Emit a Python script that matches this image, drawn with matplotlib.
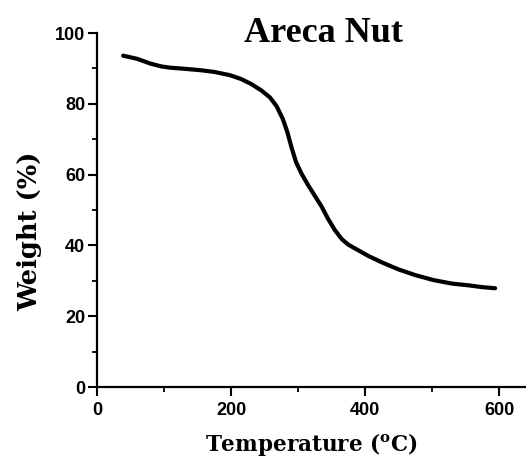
import matplotlib
matplotlib.use("Agg")
import matplotlib.pyplot as plt
from matplotlib.ticker import MultipleLocator

temperature = [39, 60, 79, 95, 109, 130, 154, 175, 198, 215, 230, 245, 258, 268, 277, 284, 290, 297, 305, 315, 325, 335, 345, 355, 365, 375, 390, 405, 425, 450, 475, 502, 530, 555, 575, 594]
weight = [93.6, 92.7, 91.4, 90.6, 90.2, 89.9, 89.5, 89.0, 88.1, 87.0, 85.6, 83.8, 81.8, 79.3, 75.8, 72.0, 67.8, 63.5, 60.3, 57.0, 54.0, 51.0, 47.4, 44.3, 41.8, 40.2, 38.6, 37.0, 35.2, 33.2, 31.6, 30.2, 29.2, 28.7, 28.2, 27.9]

xticks = [0, 200, 400, 600]
yticks = [0, 20, 40, 60, 80, 100]

plt.rcParams['mathtext.fontset'] = 'dejavuserif'

fig = plt.figure(figsize=(5.26, 4.66), dpi=100)
ax = fig.add_axes([97/526, 79/466, 1 - 97/526, (387-33)/466])

ax.plot(temperature, weight, color='black', lw=3.0, solid_capstyle='round')

ax.set_xlim(0, 640)
ax.set_ylim(0, 100)
ax.set_xticks(xticks)
ax.set_yticks(yticks)
ax.xaxis.set_minor_locator(MultipleLocator(100))
ax.yaxis.set_minor_locator(MultipleLocator(10))

for s in ['top', 'right']:
    ax.spines[s].set_visible(False)
for s in ['left', 'bottom']:
    ax.spines[s].set_linewidth(1.6)

ax.tick_params(which='major', direction='out', length=6.5, width=1.5)
ax.tick_params(which='minor', direction='out', length=3.5, width=1.3)
for lab in ax.get_xticklabels() + ax.get_yticklabels():
    lab.set_fontfamily('Liberation Sans')
    lab.set_fontweight('bold')
    lab.set_fontsize(13)
ax.tick_params(axis='x', pad=4)
ax.tick_params(axis='y', pad=2)

ax.set_xlabel(r'Temperature ($^{\mathbf{o}}$C)', fontfamily='DejaVu Serif',
              fontweight='bold', fontsize=15.5, labelpad=9)
ax.set_ylabel('Weight (%)', fontfamily='DejaVu Serif', fontweight='bold', fontsize=18.5)
ax.yaxis.set_label_coords(-0.128, 0.44)

fig.text(323/526, 1 - 42/466, 'Areca Nut', ha='center', va='baseline',
         fontfamily='Liberation Serif', fontweight='bold', fontsize=26)

fig.savefig('out.png', dpi=100)
